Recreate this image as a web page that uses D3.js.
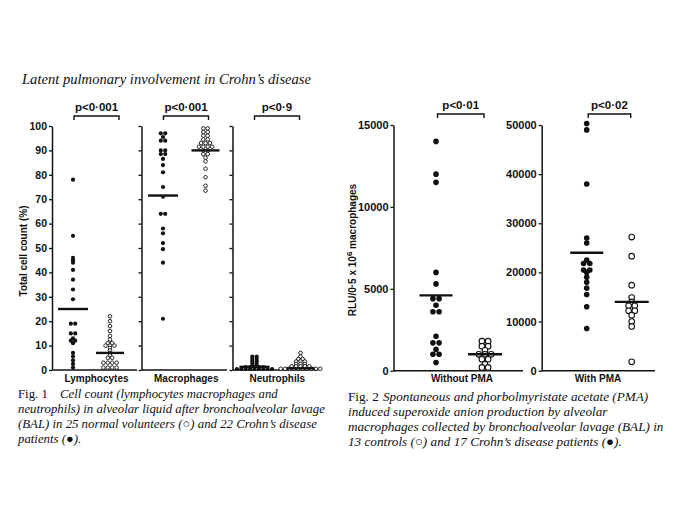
<!DOCTYPE html>
<html><head><meta charset="utf-8">
<script src="https://cdn.jsdelivr.net/npm/d3@7"></script>
<style>body{margin:0;background:#fff}</style>
</head><body>
<svg id="c" width="689" height="517" xmlns="http://www.w3.org/2000/svg"></svg>
<script>
// ---------------- DATA ----------------
const fig1Title = "Latent pulmonary involvement in Crohn\u2019s disease";
const fig1Categories = ["Lymphocytes", "Macrophages", "Neutrophils"];
const fig1PValues = ["p<0\u00b7001", "p<0\u00b7001", "p<0\u00b79"];
const fig1YTicks = [0, 10, 20, 30, 40, 50, 60, 70, 80, 90, 100];
const fig1YLabel = "Total cell count (%)";
const lymphCrohn = [78, 55, 46, 45, 44, 41, 37, 33, 29, 19, 19, 15, 15, 13, 12, 12, 11, 7, 5.5, 4, 2.5, 1];
const lymphControl = [22, 20, 18, 16, 14, 12.5, 11, 11, 10, 10, 10, 9, 8, 7, 6, 5, 5, 3, 3, 3, 3, 1, 1, 1, 1];
const macroCrohn = [97, 97, 95.5, 94, 94, 90, 90, 88.5, 88.5, 86.5, 84, 81, 75, 71, 64, 64, 58, 56, 52, 49.5, 44, 21];
const macroControl = [99, 99, 97.5, 97.5, 96, 96, 94.5, 94.5, 93, 93, 93, 91.5, 91.5, 91.5, 91.5, 90, 90, 88.5, 88.5, 87, 85.5, 82.5, 79, 75.5, 73.5];
const neutroCrohn = [5.5, 5.5, 4.5, 4.5, 3.5, 3.5, 2.5, 2.5, 1.2, 1.2, 1.2, 1.2, 1.2, 0.4, 0.4, 0.4, 0.4, 0.4, 0.4, 0.4, 0.4, 0.4];
const neutroControl = [7, 5.5, 4.5, 4.5, 3.5, 3.5, 3.5, 2.5, 2.5, 2.5, 1.5, 1.5, 1.5, 1.5, 1.5, 0.5, 0.5, 0.5, 0.5, 0.5, 0.5, 0.5, 0.5, 0.5, 0.5];
const fig1CrohnMeans = [25, 71.5, 1.3];
const fig1ControlMeans = [7, 90, 0.7];

const fig2Categories = ["Without PMA", "With PMA"];
const fig2PValues = ["p<0\u00b701", "p<0\u00b702"];
const fig2TicksWithout = [0, 5000, 10000, 15000];
const fig2TicksWith = [0, 10000, 20000, 30000, 40000, 50000];
const withoutPmaCrohn = [14000, 12000, 11500, 6000, 5300, 4400, 4400, 4000, 3600, 3600, 2100, 1700, 1700, 1300, 1000, 1000, 500];
const withoutPmaControl = [1800, 1800, 1500, 1500, 1250, 1000, 1000, 1000, 700, 700, 400, 200, 200];
const withPmaCrohn = [50300, 49000, 38000, 27000, 26000, 22500, 21800, 21800, 20500, 20500, 20000, 19000, 18000, 16800, 15500, 13000, 8600];
const withPmaControl = [27200, 23300, 17400, 14900, 14000, 13200, 13200, 12200, 12200, 11300, 10000, 9000, 1800];
const fig2CrohnMeans = [4600, 24000];
const fig2ControlMeans = [1000, 14000];

const fig1Caption = [
  ["Fig. 1", "Cell count (lymphocytes macrophages and"],
  ["", "neutrophils) in alveolar liquid after bronchoalveolar lavage"],
  ["", "(BAL) in 25 normal volunteers (\u25CB) and 22 Crohn\u2019s disease"],
  ["", "patients (\u25CF)."]
];
const fig2Caption = [
  ["Fig. 2", "Spontaneous and phorbolmyristate acetate (PMA)"],
  ["", "induced superoxide anion production by alveolar"],
  ["", "macrophages collected by bronchoalveolar lavage (BAL) in"],
  ["", "13 controls (\u25CB) and 17 Crohn\u2019s disease patients (\u25CF)."]
];

// ---------------- DRAWING ----------------
const svg = d3.select("#c");
svg.append("rect").attr("width", 689).attr("height", 517).attr("fill", "#fff");
const SANS = "'Liberation Sans', Arial, sans-serif";
const SERIF = "'Liberation Serif', 'Times New Roman', serif";

function swarm(values, spacing) {
  const counts = d3.rollup(values, v => v.length, d => d);
  const seen = new Map();
  return values.map(v => {
    const n = counts.get(v), k = seen.get(v) || 0;
    seen.set(v, k + 1);
    return { v, dx: (k - (n - 1) / 2) * spacing };
  });
}

function drawDots(g, values, cx, y, filled, r, spacing, sw) {
  g.selectAll(null).data(swarm(values, spacing)).join("circle")
    .attr("cx", d => cx + d.dx).attr("cy", d => y(d.v)).attr("r", r)
    .attr("fill", filled ? "#111" : "#fff")
    .attr("stroke", "#111").attr("stroke-width", filled ? 0 : sw);
}

function drawMean(g, value, cx, y, half) {
  g.append("line").attr("x1", cx - half).attr("x2", cx + half)
    .attr("y1", y(value)).attr("y2", y(value))
    .attr("stroke", "#111").attr("stroke-width", 2.4);
}

function drawBracket(g, x1, x2, yLine, label, fs) {
  g.append("path")
    .attr("d", `M${x1},${yLine + 4}V${yLine}H${x2}V${yLine + 4}`)
    .attr("fill", "none").attr("stroke", "#111").attr("stroke-width", 1.4);
  g.append("text").attr("x", (x1 + x2) / 2).attr("y", yLine - 5)
    .attr("text-anchor", "middle").attr("font-family", SANS)
    .attr("font-weight", "bold").attr("font-size", fs).attr("fill", "#111").text(label);
}

function drawAxis(g, y, x0, ticks, labelled, fs, fmt) {
  const ax = d3.axisLeft(y).tickValues(ticks).tickSize(3).tickSizeOuter(0).tickPadding(2)
    .tickFormat(labelled ? fmt : () => "");
  const a = g.append("g").attr("transform", `translate(${x0},0)`).call(ax);
  a.select(".domain").attr("stroke", "#111").attr("stroke-width", 1.5);
  a.selectAll(".tick line").attr("stroke", "#111").attr("stroke-width", 1.3);
  a.selectAll(".tick text").attr("font-family", SANS).attr("font-weight", "bold")
    .attr("font-size", fs).attr("fill", "#111");
  a.attr("font-family", null).attr("font-size", null);
}

// -------- Figure 1 --------
svg.append("text").attr("x", 22).attr("y", 84).attr("font-family", SERIF)
  .attr("font-style", "italic").attr("font-size", 14.6).attr("fill", "#111").text(fig1Title);

const y1 = d3.scaleLinear().domain([0, 100]).range([370, 126]);
const fig1AxisX = [52, 141.5, 232.5];
const fig1EndX = [137, 227, 318];
const fig1Offsets = [[21, 58], [21.5, 64], [22, 68]];
const fig1Crohn = [lymphCrohn, macroCrohn, neutroCrohn];
const fig1Control = [lymphControl, macroControl, neutroControl];
const g1 = svg.append("g");

fig1Categories.forEach((cat, i) => {
  const x0 = fig1AxisX[i];
  const xs = d3.scalePoint().domain(["crohn", "control"])
    .range([x0 + fig1Offsets[i][0], x0 + fig1Offsets[i][1]]);
  drawAxis(g1, y1, x0, fig1YTicks, i === 0, 10.5, d3.format("d"));
  g1.append("line").attr("x1", x0).attr("x2", fig1EndX[i]).attr("y1", y1(0)).attr("y2", y1(0))
    .attr("stroke", "#111").attr("stroke-width", 1.5);
  drawDots(g1, fig1Crohn[i], xs("crohn"), y1, true, 2.1, 4.4, 0.9);
  drawDots(g1, fig1Control[i], xs("control"), y1, false, 1.8, 4.4, 0.9);
  drawMean(g1, fig1CrohnMeans[i], xs("crohn"), y1, 15);
  drawMean(g1, fig1ControlMeans[i], xs("control"), y1, 14);
  drawBracket(g1, x0 + 22, x0 + 67, 116, fig1PValues[i], 11.5);
  g1.append("text").attr("x", (x0 + fig1EndX[i]) / 2 + 2).attr("y", 382)
    .attr("text-anchor", "middle").attr("font-family", SANS).attr("font-weight", "bold")
    .attr("font-size", 10).attr("fill", "#111").text(cat);
});
g1.append("text").attr("transform", "translate(27,251) rotate(-90)")
  .attr("text-anchor", "middle").attr("font-family", SANS).attr("font-weight", "bold")
  .attr("font-size", 10).attr("fill", "#111").text(fig1YLabel);

// -------- Figure 2 --------
const yA = d3.scaleLinear().domain([0, 15000]).range([370.7, 125]);
const yB = d3.scaleLinear().domain([0, 50000]).range([370.7, 125]);
const fig2Scales = [yA, yB];
const fig2Ticks = [fig2TicksWithout, fig2TicksWith];
const fig2AxisX = [393.5, 541.7];
const fig2EndX = [523, 655];
const fig2Offsets = [[42.5, 91.5], [45, 90]];
const fig2Crohn = [withoutPmaCrohn, withPmaCrohn];
const fig2Control = [withoutPmaControl, withPmaControl];
const g2 = svg.append("g");

fig2Categories.forEach((cat, i) => {
  const x0 = fig2AxisX[i], y = fig2Scales[i];
  const xs = d3.scalePoint().domain(["crohn", "control"])
    .range([x0 + fig2Offsets[i][0], x0 + fig2Offsets[i][1]]);
  drawAxis(g2, y, x0, fig2Ticks[i], true, 11, d3.format("d"));
  g2.append("line").attr("x1", x0).attr("x2", fig2EndX[i]).attr("y1", y(0)).attr("y2", y(0))
    .attr("stroke", "#111").attr("stroke-width", 1.5);
  drawDots(g2, fig2Crohn[i], xs("crohn"), y, true, 2.8, 6.2, 1.1);
  drawDots(g2, fig2Control[i], xs("control"), y, false, 2.8, 6.2, 1.1);
  drawMean(g2, fig2CrohnMeans[i], xs("crohn"), y, 16.5);
  drawMean(g2, fig2ControlMeans[i], xs("control"), y, 17);
  drawBracket(g2, xs("crohn") + 1.5, xs("control") - 1, 114, fig2PValues[i], 11.5);
  g2.append("text").attr("x", [462, 598][i]).attr("y", 382)
    .attr("text-anchor", "middle").attr("font-family", SANS).attr("font-weight", "bold")
    .attr("font-size", 10).attr("fill", "#111").text(cat);
});
const yl = g2.append("text").attr("transform", "translate(356,250) rotate(-90)")
  .attr("text-anchor", "middle").attr("font-family", SANS).attr("font-weight", "bold")
  .attr("font-size", 10).attr("fill", "#111");
yl.append("tspan").text("RLU/0\u00b75 x 10");
yl.append("tspan").attr("font-size", 8).attr("dy", -4).text("6");
yl.append("tspan").attr("dy", 4).text(" macrophages");

// -------- Captions --------
function caption(lines, x, xItalic, y0, fs) {
  lines.forEach((ln, j) => {
    const t = svg.append("text").attr("y", y0 + j * 15).attr("font-family", SERIF)
      .attr("font-size", fs).attr("fill", "#111");
    if (ln[0]) {
      t.append("tspan").attr("x", x).text(ln[0]);
      t.append("tspan").attr("x", xItalic).attr("font-style", "italic").text(ln[1]);
    } else {
      t.append("tspan").attr("x", x).attr("font-style", "italic").text(ln[1]);
    }
  });
}
caption(fig1Caption, 18, 60, 398, 12.8);
caption(fig2Caption, 348, 383, 401, 13.2);
</script>
</body></html>
